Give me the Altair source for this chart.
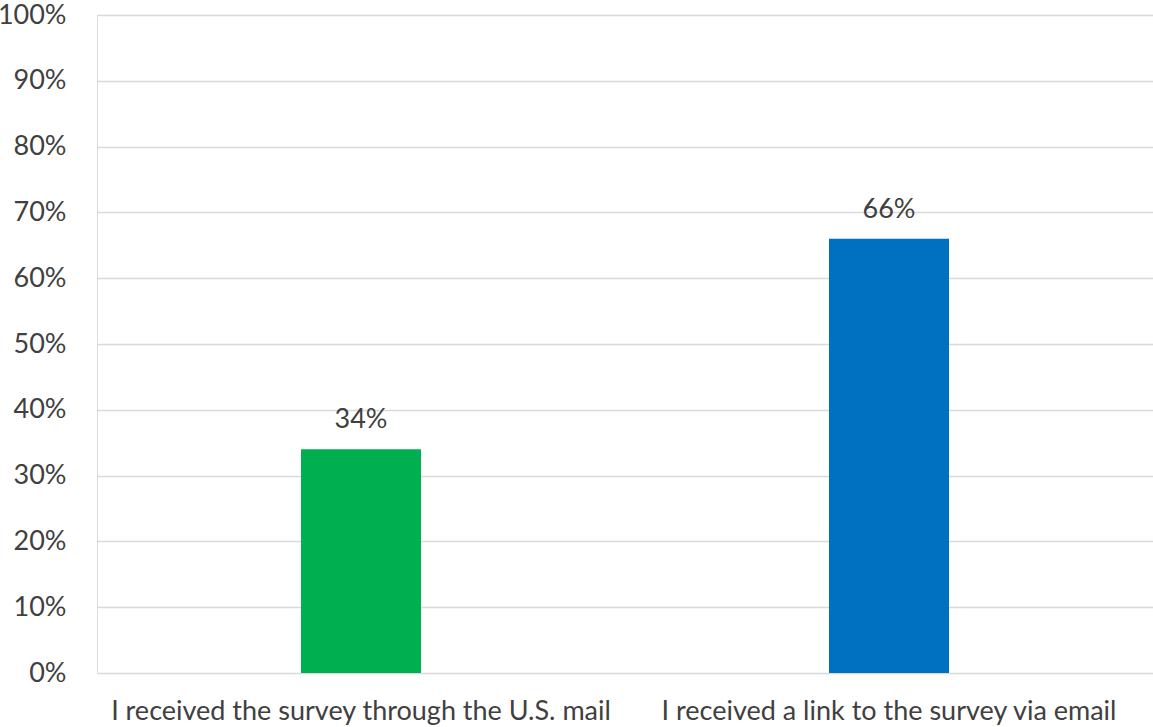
import altair as alt
import pandas as pd

# Survey delivery method responses
responses = [
    "I received the survey through the U.S. mail",
    "I received a link to the survey via email",
]
shares = [0.34, 0.66]
bar_colors = ["#00B050", "#0070C0"]

df = pd.DataFrame({"response": responses, "share": shares, "color": bar_colors})

FONT = "Lato"
TEXT = "#404040"

base = alt.Chart(df).encode(
    x=alt.X(
        "response:N",
        sort=responses,
        title=None,
        scale=alt.Scale(paddingInner=0, paddingOuter=0),
        axis=alt.Axis(
            labelAngle=0,
            labelFont=FONT,
            labelFontSize=27,
            labelColor=TEXT,
            labelPadding=25,
            ticks=False,
            domain=False,
            grid=False,
            labelLimit=600,
        ),
    ),
    y=alt.Y(
        "share:Q",
        title=None,
        scale=alt.Scale(domain=[0, 1], nice=False),
        axis=alt.Axis(
            format=".0%",
            values=[i / 10 for i in range(11)],
            labelFont=FONT,
            labelFontSize=27,
            labelColor=TEXT,
            labelPadding=31,
            ticks=False,
            domain=False,
            grid=True,
            gridColor="#D9D9D9",
            gridWidth=1.5,
        ),
    ),
)

bars = base.mark_bar(size=120).encode(color=alt.Color("color:N", scale=None))

labels = base.mark_text(
    baseline="alphabetic", dy=-21, font=FONT, fontSize=27, color=TEXT
).encode(text=alt.Text("share:Q", format=".0%"))

chart = (
    alt.layer(bars, labels)
    .properties(
        width=1056,
        height=658,
        padding={"left": 97, "top": 15, "right": 0, "bottom": 54},
        autosize="none",
    )
    .configure_axis(domain=False, ticks=False)
    .configure_axisBand(grid=False, domain=False)
    .configure_axisDiscrete(grid=False, domain=False)
    .configure_axisLeft(domain=False)
    .configure_axisY(domain=False)
    .configure_view(stroke="white", strokeWidth=0, strokeOpacity=0)
    .configure(background="white")
)

chart.save("out.html", embed_options={"renderer": "svg", "actions": False})
